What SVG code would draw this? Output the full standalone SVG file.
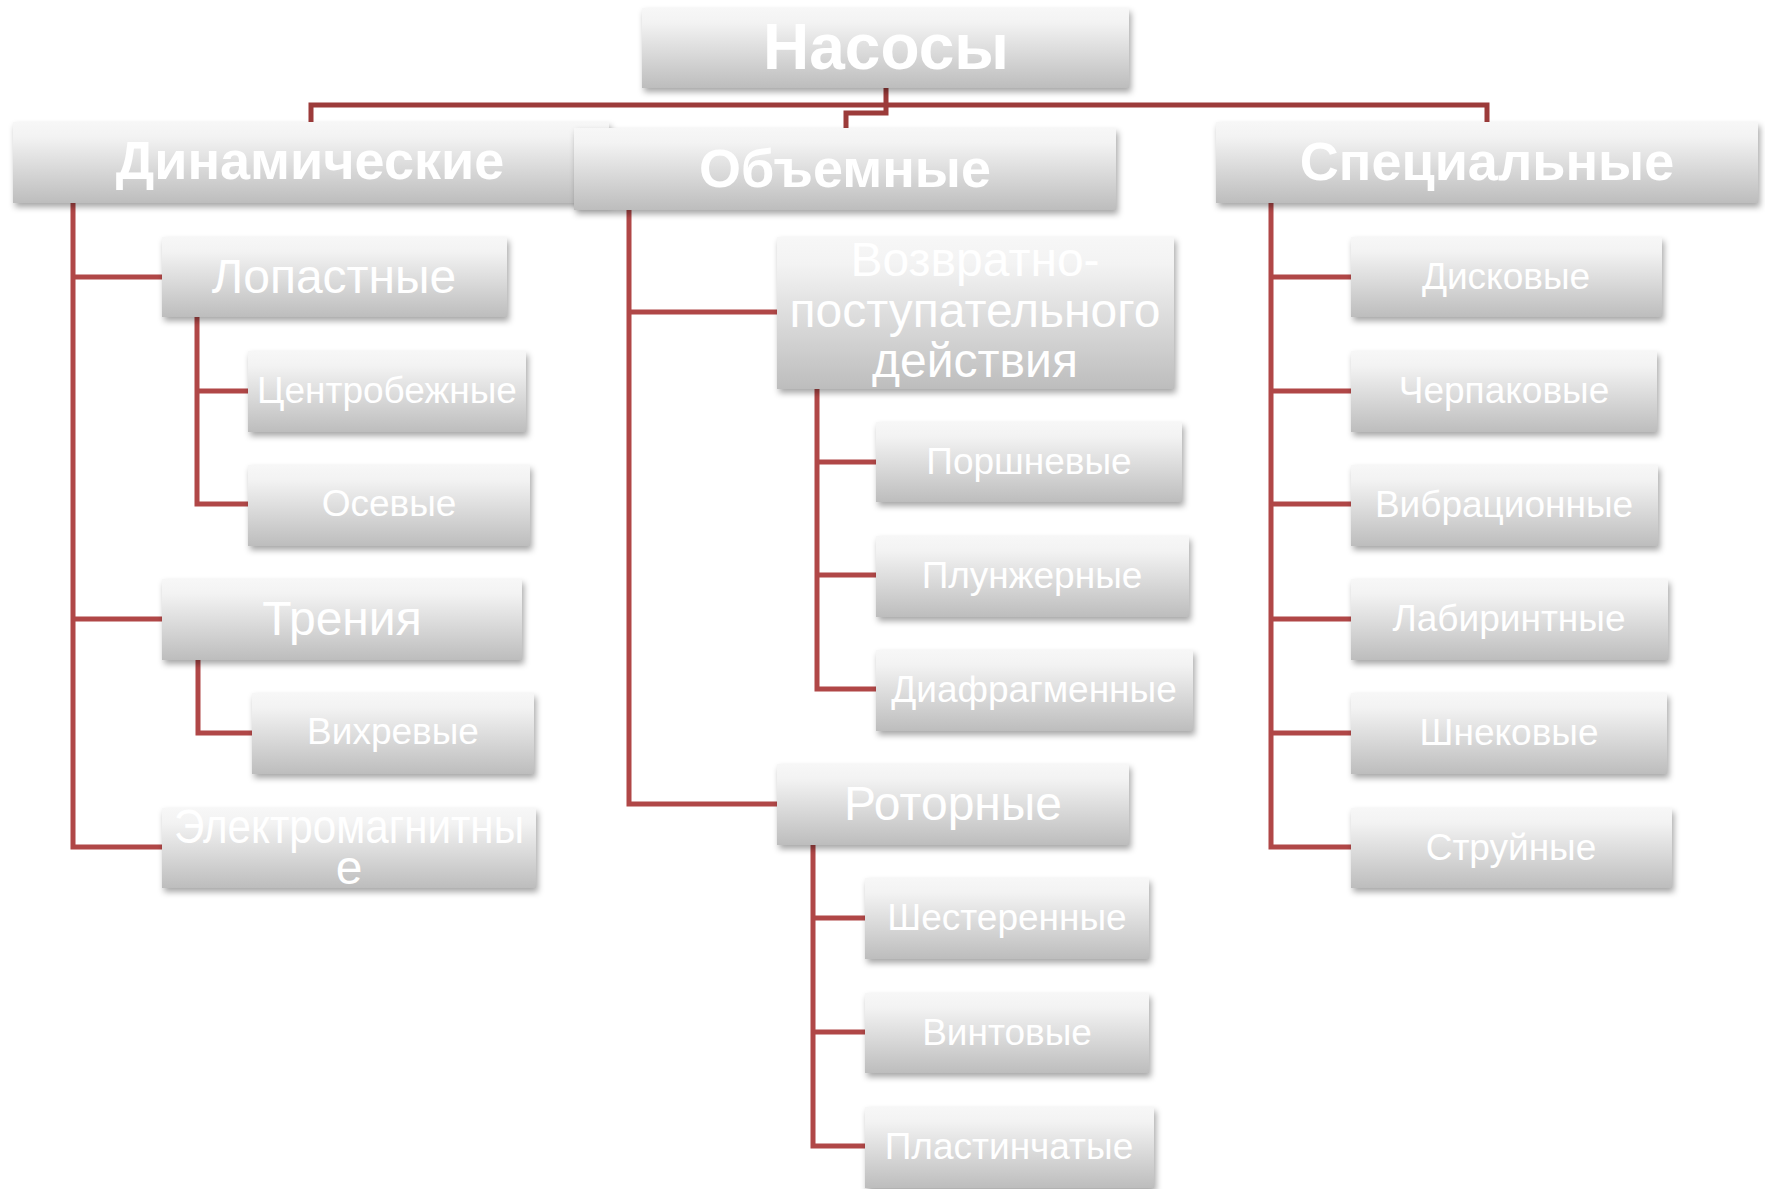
<svg xmlns="http://www.w3.org/2000/svg" width="1765" height="1189" viewBox="0 0 1765 1189">
<defs>
<linearGradient id="g" x1="0" y1="0" x2="0" y2="1">
<stop offset="0" stop-color="#f7f7f7"/>
<stop offset="0.18" stop-color="#f3f3f3"/>
<stop offset="1" stop-color="#bdbdbd"/>
</linearGradient>
<filter id="sh" x="-5%" y="-10%" width="112%" height="135%">
<feDropShadow dx="2" dy="4" stdDeviation="3" flood-color="#000" flood-opacity="0.35"/>
</filter>
<style>
.box{fill:url(#g);filter:url(#sh)}
.t{fill:#fff;font-family:"Liberation Sans",Arial,sans-serif;text-anchor:middle}
.t0{font-size:64px;font-weight:bold}
.t1{font-size:54px;font-weight:bold}
.t2{font-size:48px}
.t3{font-size:37px}
.c{fill:none;stroke:#b04747;stroke-width:5;stroke-linejoin:miter}
.ct{stroke:#9c3b3a}
</style>
</defs>
<rect width="1765" height="1189" fill="#fff"/>
<g id="connectors">
<path class="c ct" d="M311,122 V105 H1487 V122"/>
<path class="c ct" d="M886,88 V113 H846 V128"/>
<path class="c" d="M73,203 V847 H162 M73,277 H162 M73,619 H162"/>
<path class="c" d="M197,317 V504 H248 M197,391 H248"/>
<path class="c" d="M198,660 V733 H252"/>
<path class="c" d="M629,210 V804 H777 M629,312 H777"/>
<path class="c" d="M817,389 V689 H876 M817,462 H876 M817,575 H876"/>
<path class="c" d="M813,845 V1146 H865 M813,918 H865 M813,1032 H865"/>
<path class="c" d="M1271,203 V847 H1351 M1271,277 H1351 M1271,391 H1351 M1271,504 H1351 M1271,619 H1351 M1271,733 H1351"/>
</g>
<g id="n-nasosy"><rect class="box" x="642" y="8" width="487" height="80"/><text class="t t0" x="886" y="69">Насосы</text></g>
<g id="n-dinam"><rect class="box" x="13" y="122" width="596" height="81"/><text class="t t1" x="310" y="179">Динамические</text></g>
<g id="n-obyem"><rect class="box" x="574" y="128" width="542" height="82"/><text class="t t1" x="845" y="187">Объемные</text></g>
<g id="n-spec"><rect class="box" x="1216" y="122" width="542" height="81"/><text class="t t1" x="1487" y="180">Специальные</text></g>

<g id="n-lopast"><rect class="box" x="162" y="237" width="345" height="80"/><text class="t t2" x="334" y="293">Лопастные</text></g>
<g id="n-centr"><rect class="box" x="248" y="351" width="278" height="81"/><text class="t t3" x="387" y="403">Центробежные</text></g>
<g id="n-osev"><rect class="box" x="248" y="465" width="282" height="81"/><text class="t t3" x="389" y="516">Осевые</text></g>
<g id="n-trenia"><rect class="box" x="162" y="579" width="360" height="81"/><text class="t t2" x="342" y="635">Трения</text></g>
<g id="n-vihr"><rect class="box" x="252" y="693" width="282" height="81"/><text class="t t3" x="393" y="744">Вихревые</text></g>
<g id="n-elmag"><rect class="box" x="162" y="808" width="374" height="80"/><text class="t t2"><tspan x="349" y="843" textLength="350" lengthAdjust="spacingAndGlyphs">Электромагнитны</tspan><tspan x="349" y="884">е</tspan></text></g>

<g id="n-vozvr"><rect class="box" x="777" y="237" width="397" height="152"/><text class="t t2"><tspan x="975" y="276">Возвратно-</tspan><tspan x="975" y="327">поступательного</tspan><tspan x="975" y="377">действия</tspan></text></g>
<g id="n-porsh"><rect class="box" x="876" y="422" width="306" height="80"/><text class="t t3" x="1029" y="474">Поршневые</text></g>
<g id="n-plunzh"><rect class="box" x="876" y="536" width="313" height="81"/><text class="t t3" x="1032" y="588">Плунжерные</text></g>
<g id="n-diafr"><rect class="box" x="876" y="650" width="317" height="81"/><text class="t t3" x="1034" y="702">Диафрагменные</text></g>
<g id="n-rotor"><rect class="box" x="777" y="764" width="352" height="81"/><text class="t t2" x="953" y="820">Роторные</text></g>
<g id="n-shest"><rect class="box" x="865" y="878" width="284" height="81"/><text class="t t3" x="1007" y="930">Шестеренные</text></g>
<g id="n-vint"><rect class="box" x="865" y="993" width="284" height="80"/><text class="t t3" x="1007" y="1045">Винтовые</text></g>
<g id="n-plast"><rect class="box" x="865" y="1107" width="289" height="81"/><text class="t t3" x="1009" y="1159">Пластинчатые</text></g>

<g id="n-disk"><rect class="box" x="1351" y="237" width="311" height="80"/><text class="t t3" x="1506" y="289">Дисковые</text></g>
<g id="n-cherp"><rect class="box" x="1351" y="351" width="306" height="81"/><text class="t t3" x="1504" y="403">Черпаковые</text></g>
<g id="n-vibr"><rect class="box" x="1351" y="465" width="307" height="81"/><text class="t t3" x="1504" y="517">Вибрационные</text></g>
<g id="n-labir"><rect class="box" x="1351" y="579" width="317" height="81"/><text class="t t3" x="1509" y="631">Лабиринтные</text></g>
<g id="n-shnek"><rect class="box" x="1351" y="693" width="316" height="81"/><text class="t t3" x="1509" y="745">Шнековые</text></g>
<g id="n-struy"><rect class="box" x="1351" y="808" width="321" height="80"/><text class="t t3" x="1511" y="860">Струйные</text></g>
</svg>
